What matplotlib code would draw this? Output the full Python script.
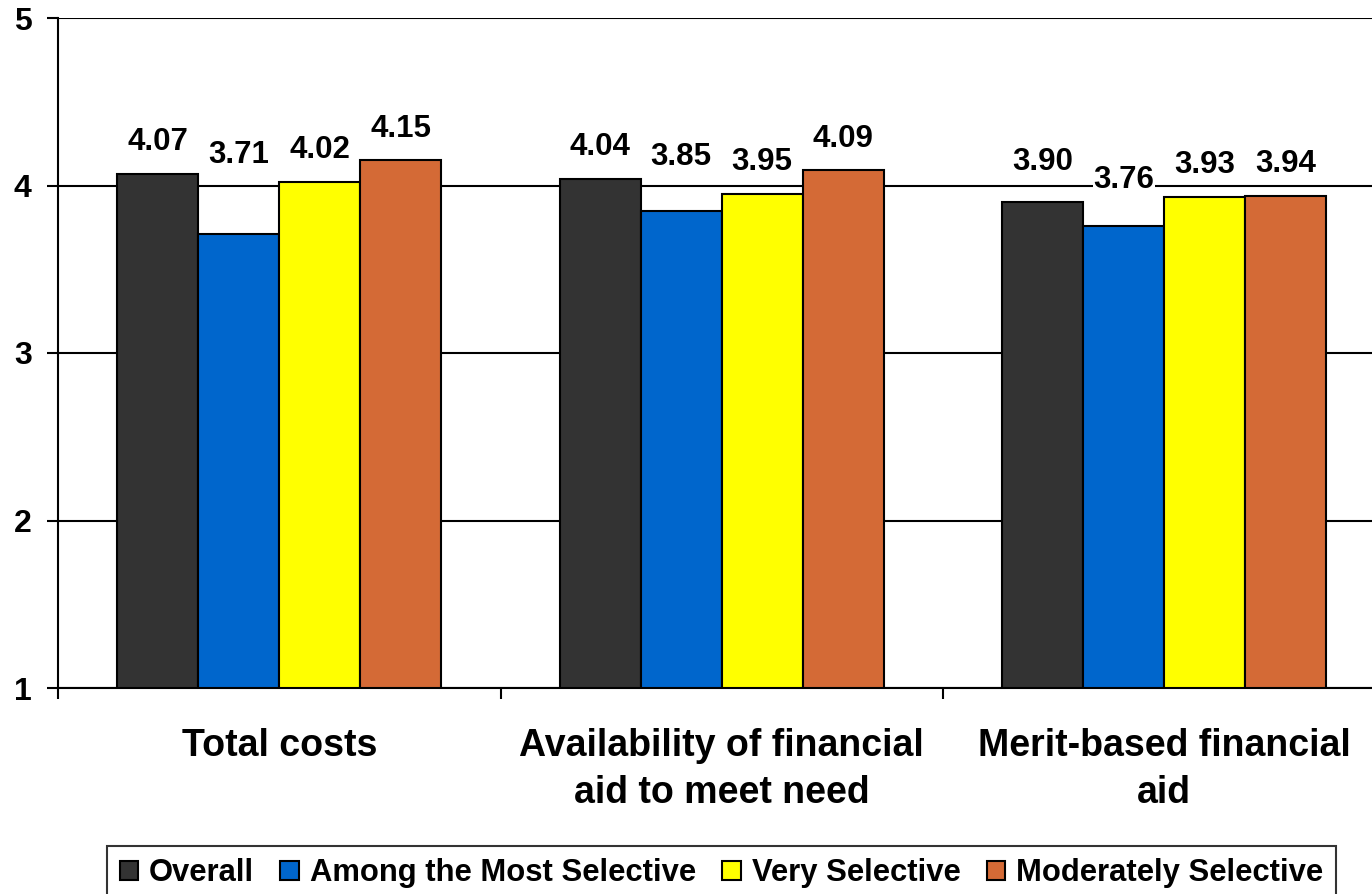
import numpy as np
import matplotlib
matplotlib.use('Agg')
import matplotlib.pyplot as plt
from matplotlib.ticker import FixedLocator

plt.rcParams['font.family'] = ['Liberation Sans', 'DejaVu Sans']
plt.rcParams['font.weight'] = 'bold'

# datos
categorias = ['Total costs', 'Availability of financial\naid to meet need', 'Merit-based financial\naid']
series = ['Overall', 'Among the Most Selective', 'Very Selective', 'Moderately Selective']
overall = [4.07, 4.04, 3.90]
most_selective = [3.71, 3.85, 3.76]
very_selective = [4.02, 3.95, 3.93]
moderately_selective = [4.15, 4.09, 3.94]

valores = [overall, most_selective, very_selective, moderately_selective]
colores = ['#333333', '#0066CC', '#FFFF00', '#D46A36']
# desplazamiento vertical (centro de la etiqueta sobre la barra)
desp = [[0.19, 0.19, 0.24],
        [0.47, 0.32, 0.27],
        [0.19, 0.19, 0.19],
        [0.19, 0.19, 0.19]]

fig = plt.figure(figsize=(13.72, 8.94), dpi=100)
ax = fig.add_axes([58/1372, 1 - 688/894, 1327.5/1372, 670/894])

x = np.arange(len(categorias)) + 0.5
ancho = 0.183
for i, (nombre, vals) in enumerate(zip(series, valores)):
    pos = x + (i - 1.5) * ancho
    ax.bar(pos, np.array(vals) - 1, bottom=1, width=ancho, color=colores[i],
           edgecolor='black', linewidth=1.5, label=nombre, zorder=3)
    for xp, v, d in zip(pos, vals, desp[i]):
        ax.text(xp, v + d, f'{v:.2f}', ha='center', va='center', fontsize=22.5,
                fontweight='bold', zorder=4,
                bbox=dict(facecolor='white', edgecolor='none', pad=0.5))

ax.set_xlim(0, 3)
ax.set_ylim(1, 5)
ax.set_yticks([1, 2, 3, 4, 5])
ax.grid(axis='y', color='black', linewidth=1.5, zorder=1)
ax.tick_params(axis='y', direction='out', length=8, width=1.5, pad=11, labelsize=23)
ax.set_xticks(x)
ax.set_xticklabels(categorias, fontsize=27, fontweight='bold', linespacing=1.38)
ax.tick_params(axis='x', length=0, pad=29)
ax.xaxis.set_minor_locator(FixedLocator([0, 1, 2, 3]))
ax.tick_params(axis='x', which='minor', direction='out', length=8, width=1.5)
for s in ['top', 'right']:
    ax.spines[s].set_visible(False)
for s in ['left', 'bottom']:
    ax.spines[s].set_linewidth(1.5)

leg = fig.legend(loc='upper center', bbox_to_anchor=(721.5/1372, 1 - 846/894), ncol=4,
                 fontsize=22.3, frameon=True, fancybox=False, handlelength=0.6,
                 handleheight=0.6, handletextpad=0.35, columnspacing=0.85,
                 borderpad=0.4, borderaxespad=0)
leg.get_frame().set_edgecolor('black')
leg.get_frame().set_linewidth(1.5)
for t in leg.get_texts():
    t.set_fontweight('bold')

fig.savefig('out.png', dpi=100)
